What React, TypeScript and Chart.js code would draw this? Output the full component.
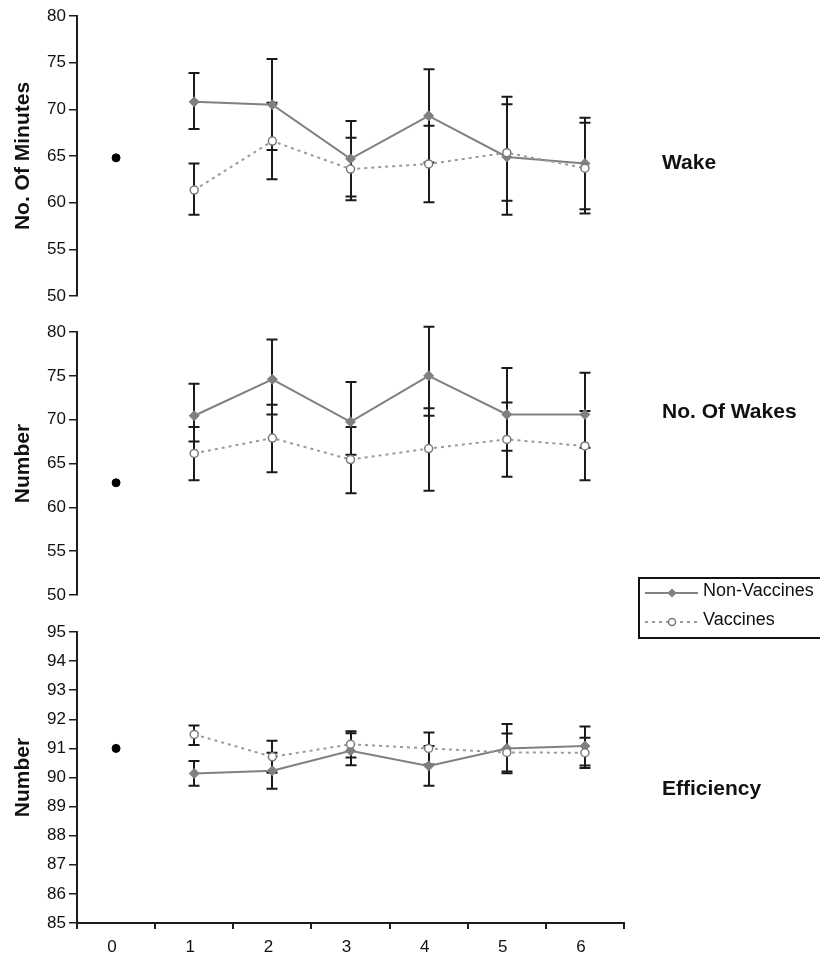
import React, { useEffect, useRef } from 'react';
import { Chart, registerables } from 'chart.js';

Chart.register(...registerables);

const FONT = '"Liberation Sans", Arial, Helvetica, sans-serif';

// Sessions on the shared x axis (0 = baseline measurement)
const sessions = ['0', '1', '2', '3', '4', '5', '6'];

// Wake: number of minutes awake
const wakeBaseline = [64.8, null, null, null, null, null, null];
const wakeNonVacc = [null, 70.8, 70.5, 64.7, 69.3, 64.9, 64.2];
const wakeNonVaccUp = [null, 3.1, 4.9, 4.05, 5.0, 6.45, 4.9];
const wakeNonVaccDown = [null, 2.9, 4.85, 4.05, 5.0, 6.2, 4.9];
const wakeVacc = [null, 61.35, 66.6, 63.6, 64.15, 65.35, 63.7];
const wakeVaccUp = [null, 2.85, 4.1, 3.35, 4.1, 5.2, 4.85];
const wakeVaccDown = [null, 2.65, 4.1, 3.35, 4.1, 5.15, 4.85];

// Number of wakes
const wakesBaseline = [62.8, null, null, null, null, null, null];
const wakesNonVacc = [null, 70.45, 74.6, 69.75, 75.0, 70.6, 70.6];
const wakesNonVaccUp = [null, 3.65, 4.55, 4.55, 5.6, 5.3, 4.75];
const wakesNonVaccDown = [null, 2.95, 4.0, 3.75, 4.55, 4.15, 3.8];
const wakesVacc = [null, 66.15, 67.9, 65.45, 66.7, 67.75, 67.0];
const wakesVaccUp = [null, 3.0, 3.8, 3.7, 4.6, 4.2, 4.0];
const wakesVaccDown = [null, 3.05, 3.9, 3.85, 4.8, 4.25, 3.9];

// Sleep efficiency
const effBaseline = [91.0, null, null, null, null, null, null];
const effNonVacc = [null, 90.14, 90.23, 90.92, 90.4, 91.0, 91.08];
const effNonVaccUp = [null, 0.43, 0.62, 0.6, 0.68, 0.84, 0.67];
const effNonVaccDown = [null, 0.42, 0.62, 0.5, 0.68, 0.85, 0.67];
const effVacc = [null, 91.48, 90.71, 91.14, 91.0, 90.86, 90.85];
const effVaccUp = [null, 0.31, 0.55, 0.45, 0.55, 0.65, 0.52];
const effVaccDown = [null, 0.36, 0.55, 0.45, 0.55, 0.65, 0.52];

const seriesNames = ['Non-Vaccines', 'Vaccines'];

type Vals = (number | null)[];

interface PanelData {
  axisTitle: string;
  sideLabel: string;
  min: number;
  max: number;
  step: number;
  baseline: Vals;
  nonVacc: Vals;
  nonVaccUp: Vals;
  nonVaccDown: Vals;
  vacc: Vals;
  vaccUp: Vals;
  vaccDown: Vals;
}

const panels: PanelData[] = [
  {
    axisTitle: 'No. Of Minutes', sideLabel: 'Wake', min: 50, max: 80, step: 5,
    baseline: wakeBaseline, nonVacc: wakeNonVacc, nonVaccUp: wakeNonVaccUp, nonVaccDown: wakeNonVaccDown,
    vacc: wakeVacc, vaccUp: wakeVaccUp, vaccDown: wakeVaccDown,
  },
  {
    axisTitle: 'Number', sideLabel: 'No. Of Wakes', min: 50, max: 80, step: 5,
    baseline: wakesBaseline, nonVacc: wakesNonVacc, nonVaccUp: wakesNonVaccUp, nonVaccDown: wakesNonVaccDown,
    vacc: wakesVacc, vaccUp: wakesVaccUp, vaccDown: wakesVaccDown,
  },
  {
    axisTitle: 'Number', sideLabel: 'Efficiency', min: 85, max: 95, step: 1,
    baseline: effBaseline, nonVacc: effNonVacc, nonVaccUp: effNonVaccUp, nonVaccDown: effNonVaccDown,
    vacc: effVacc, vaccUp: effVaccUp, vaccDown: effVaccDown,
  },
];

// Canvas placement and padding for each stacked panel
const frames = [
  { top: 0, height: 310, pad: { top: 16, bottom: 14, left: 0, right: 196 }, xAxis: false, key: false, labelY: 163 },
  { top: 300, height: 350, pad: { top: 32, bottom: 55, left: 0, right: 196 }, xAxis: false, key: true, labelY: 112 },
  { top: 600, height: 354, pad: { top: 32, bottom: 0, left: 0, right: 196 }, xAxis: true, key: false, labelY: 189 },
];

const AXIS = '#1e1e1e';
const NV_COLOR = '#808080';
const V_LINE = '#9a9a9a';
const V_EDGE = '#7a7a7a';
const BAR = '#1a1a1a';

// Vertical error bars with end caps, drawn beneath the lines and markers
const errorBars = {
  id: 'errorBars',
  beforeDatasetsDraw(chart: any) {
    const { ctx } = chart;
    const y = chart.scales.y;
    chart.data.datasets.forEach((ds: any, di: number) => {
      if (!ds.errUp) return;
      const meta = chart.getDatasetMeta(di);
      ctx.save();
      ctx.strokeStyle = BAR;
      ctx.lineWidth = 2;
      meta.data.forEach((pt: any, i: number) => {
        const v = ds.data[i];
        if (v == null) return;
        const x = Math.round(pt.x);
        const yt = y.getPixelForValue(v + ds.errUp[i]);
        const yb = y.getPixelForValue(v - ds.errDown[i]);
        ctx.beginPath();
        ctx.moveTo(x, yt);
        ctx.lineTo(x, yb);
        ctx.moveTo(x - 5.5, yt);
        ctx.lineTo(x + 5.5, yt);
        ctx.moveTo(x - 5.5, yb);
        ctx.lineTo(x + 5.5, yb);
        ctx.stroke();
      });
      ctx.restore();
    });
  },
};

// Bold panel name to the right of the plot
const sideLabel = {
  id: 'sideLabel',
  afterDraw(chart: any, _args: any, opts: any) {
    if (!opts || !opts.text) return;
    const { ctx, chartArea } = chart;
    ctx.save();
    ctx.font = `bold 21px ${FONT}`;
    ctx.fillStyle = '#111';
    ctx.textAlign = 'left';
    ctx.textBaseline = 'middle';
    ctx.fillText(opts.text, chartArea.right + 38, opts.y);
    ctx.restore();
  },
};

function diamond(ctx: CanvasRenderingContext2D, x: number, y: number, r: number) {
  ctx.beginPath();
  ctx.moveTo(x - r, y);
  ctx.lineTo(x, y - r);
  ctx.lineTo(x + r, y);
  ctx.lineTo(x, y + r);
  ctx.closePath();
}

// Boxed series key
const seriesKey = {
  id: 'seriesKey',
  afterDraw(chart: any, _args: any, opts: any) {
    if (!opts || !opts.display) return;
    const { ctx } = chart;
    const bx = opts.x;
    const by = opts.y;
    ctx.save();
    ctx.strokeStyle = '#111';
    ctx.lineWidth = 2;
    ctx.strokeRect(bx, by, 220, 60);

    ctx.font = `18px ${FONT}`;
    ctx.fillStyle = '#111';
    ctx.textAlign = 'left';
    ctx.textBaseline = 'middle';

    // Non-Vaccines
    const y1 = by + 15;
    ctx.strokeStyle = NV_COLOR;
    ctx.lineWidth = 2;
    ctx.setLineDash([]);
    ctx.beginPath();
    ctx.moveTo(bx + 6, y1);
    ctx.lineTo(bx + 59, y1);
    ctx.stroke();
    ctx.fillStyle = NV_COLOR;
    diamond(ctx, bx + 33, y1, 4.5);
    ctx.fill();
    ctx.fillStyle = '#111';
    ctx.fillText(seriesNames[0], bx + 64, y1 - 2);

    // Vaccines
    const y2 = by + 44;
    ctx.strokeStyle = V_LINE;
    ctx.setLineDash([3, 4]);
    ctx.beginPath();
    ctx.moveTo(bx + 6, y2);
    ctx.lineTo(bx + 59, y2);
    ctx.stroke();
    ctx.setLineDash([]);
    ctx.beginPath();
    ctx.arc(bx + 33, y2, 3.5, 0, Math.PI * 2);
    ctx.fillStyle = '#fff';
    ctx.fill();
    ctx.lineWidth = 1.5;
    ctx.strokeStyle = V_EDGE;
    ctx.stroke();
    ctx.fillStyle = '#111';
    ctx.fillText(seriesNames[1], bx + 64, y2 - 2);
    ctx.restore();
  },
};

function buildConfig(p: PanelData, f: typeof frames[number]): any {
  return {
    type: 'line',
    data: {
      labels: sessions,
      datasets: [
        {
          label: seriesNames[1],
          data: p.vacc,
          errUp: p.vaccUp,
          errDown: p.vaccDown,
          borderColor: V_LINE,
          borderWidth: 2,
          borderDash: [3, 4],
          pointStyle: 'circle',
          pointRadius: 4,
          pointBackgroundColor: '#ffffff',
          pointBorderColor: V_EDGE,
          pointBorderWidth: 1.5,
          fill: false,
          tension: 0,
        },
        {
          label: seriesNames[0],
          data: p.nonVacc,
          errUp: p.nonVaccUp,
          errDown: p.nonVaccDown,
          borderColor: NV_COLOR,
          borderWidth: 2,
          pointStyle: 'rectRot',
          pointRadius: 5,
          pointBackgroundColor: NV_COLOR,
          pointBorderColor: NV_COLOR,
          pointBorderWidth: 1,
          fill: false,
          tension: 0,
        },
        {
          label: 'Baseline',
          data: p.baseline,
          showLine: false,
          pointStyle: 'circle',
          pointRadius: 4,
          pointBackgroundColor: '#000',
          pointBorderColor: '#000',
          pointBorderWidth: 1,
        },
      ],
    },
    options: {
      responsive: false,
      animation: false,
      events: [],
      layout: { padding: f.pad },
      plugins: {
        legend: { display: false },
        tooltip: { enabled: false },
        sideLabel: { text: p.sideLabel, y: f.labelY },
        seriesKey: { display: f.key, x: 639, y: 278 },
      },
      scales: {
        x: {
          type: 'category',
          display: f.xAxis,
          offset: true,
          afterFit: (s: any) => {
            if (f.xAxis) s.height = 31;
          },
          grid: {
            offset: true,
            drawOnChartArea: false,
            drawTicks: true,
            tickLength: 6,
            color: AXIS,
            lineWidth: 2,
          },
          border: { display: true, color: AXIS, width: 2 },
          ticks: {
            color: '#111',
            font: { family: FONT, size: 17 },
            padding: 8,
            labelOffset: -4,
            maxRotation: 0,
          },
        },
        y: {
          min: p.min,
          max: p.max,
          afterFit: (s: any) => {
            s.width = 77;
          },
          grid: {
            drawOnChartArea: false,
            drawTicks: true,
            tickLength: 8,
            color: AXIS,
            lineWidth: 1.5,
          },
          border: { display: true, color: AXIS, width: 2 },
          ticks: {
            stepSize: p.step,
            color: '#111',
            font: { family: FONT, size: 17 },
            padding: 3,
          },
          title: {
            display: true,
            text: p.axisTitle,
            color: '#111',
            font: { family: FONT, size: 21, weight: 'bold' },
            padding: { top: 11, bottom: 0 },
          },
        },
      },
    },
    plugins: [errorBars, sideLabel, seriesKey],
  };
}

export default function App() {
  const refs = [useRef<HTMLCanvasElement>(null), useRef<HTMLCanvasElement>(null), useRef<HTMLCanvasElement>(null)];

  useEffect(() => {
    const charts: Chart[] = [];
    panels.forEach((p, i) => {
      const el = refs[i].current;
      if (!el) return;
      charts.push(new Chart(el, buildConfig(p, frames[i])));
    });
    return () => charts.forEach((c) => c.destroy());
  }, []);

  return (
    <div style={{ position: 'absolute', left: 0, top: 0, width: 820, height: 954, background: '#fff', overflow: 'hidden' }}>
      {frames.map((f, i) => (
        <canvas
          key={i}
          ref={refs[i]}
          width={820}
          height={f.height}
          style={{ position: 'absolute', left: 0, top: f.top, width: 820, height: f.height, display: 'block' }}
        />
      ))}
    </div>
  );
}
